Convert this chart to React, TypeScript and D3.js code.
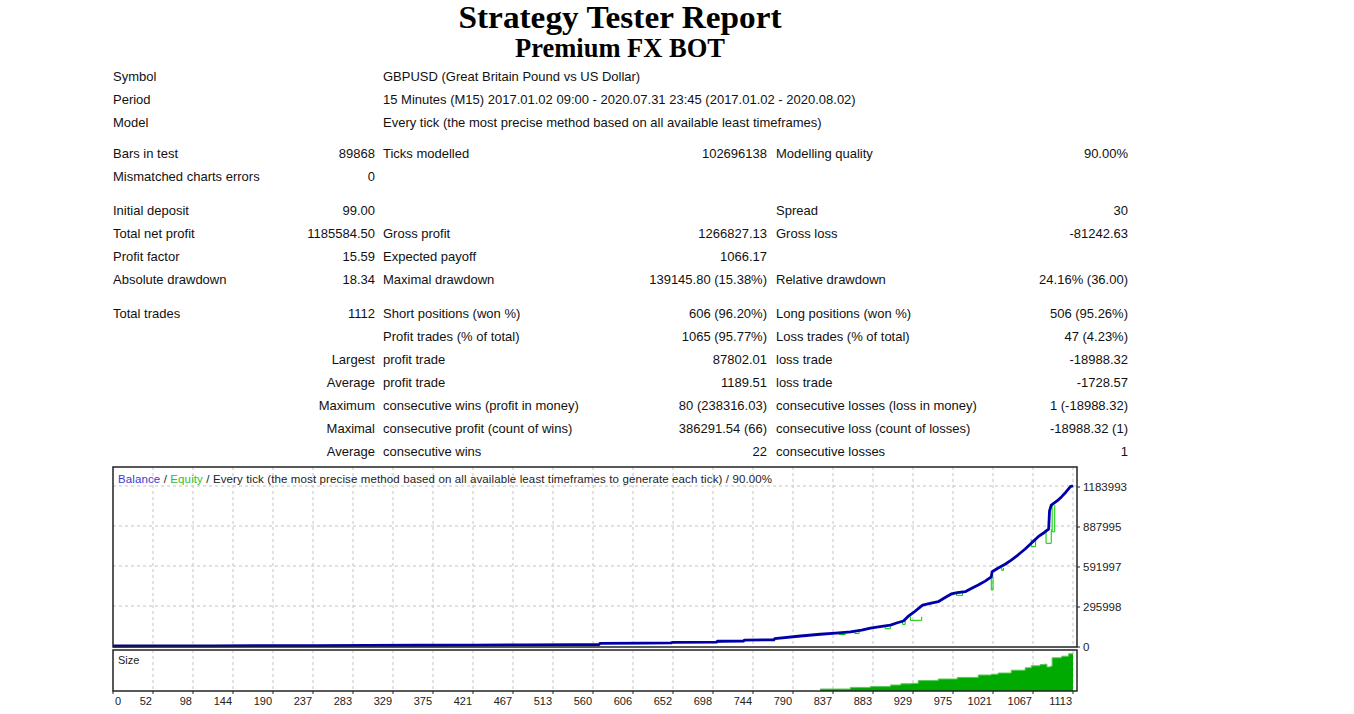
import React from "react";
import * as d3 from "d3";

// report header
const headerLabels = ["Symbol", "Period", "Model"];
const headerValues = [
  "GBPUSD (Great Britain Pound vs US Dollar)",
  "15 Minutes (M15) 2017.01.02 09:00 - 2020.07.31 23:45 (2017.01.02 - 2020.08.02)",
  "Every tick (the most precise method based on all available least timeframes)",
];

// stats table, one row = 6 cells
const statsGroups = [
  [
    ["Bars in test", "89868", "Ticks modelled", "102696138", "Modelling quality", "90.00%"],
    ["Mismatched charts errors", "0", "", "", "", ""],
  ],
  [
    ["Initial deposit", "99.00", "", "", "Spread", "30"],
    ["Total net profit", "1185584.50", "Gross profit", "1266827.13", "Gross loss", "-81242.63"],
    ["Profit factor", "15.59", "Expected payoff", "1066.17", "", ""],
    ["Absolute drawdown", "18.34", "Maximal drawdown", "139145.80 (15.38%)", "Relative drawdown", "24.16% (36.00)"],
  ],
  [
    ["Total trades", "1112", "Short positions (won %)", "606 (96.20%)", "Long positions (won %)", "506 (95.26%)"],
    ["", "", "Profit trades (% of total)", "1065 (95.77%)", "Loss trades (% of total)", "47 (4.23%)"],
    ["", "Largest", "profit trade", "87802.01", "loss trade", "-18988.32"],
    ["", "Average", "profit trade", "1189.51", "loss trade", "-1728.57"],
    ["", "Maximum", "consecutive wins (profit in money)", "80 (238316.03)", "consecutive losses (loss in money)", "1 (-18988.32)"],
    ["", "Maximal", "consecutive profit (count of wins)", "386291.54 (66)", "consecutive loss (count of losses)", "-18988.32 (1)"],
    ["", "Average", "consecutive wins", "22", "consecutive losses", "1"],
  ],
];

// chart axes
const xTickLabels = [0, 52, 98, 144, 190, 237, 283, 329, 375, 421, 467, 513, 560, 606, 652, 698, 744, 790, 837, 883, 929, 975, 1021, 1067, 1113];
const yTickValues = [0, 295998, 591997, 887995, 1183993];

// balance (trade number -> money)
const balanceTrades = [0, 60, 120, 180, 240, 300, 360, 420, 480, 540, 567, 568, 620, 650, 651, 702, 703, 733, 734, 768, 769, 799, 822, 840, 857, 870, 880, 893, 903, 911, 918, 923, 930, 940, 950, 958, 965, 973, 980, 989, 996, 1004, 1012, 1019, 1020, 1027, 1035, 1042, 1050, 1058, 1065, 1073, 1080, 1085, 1086, 1088, 1095, 1100, 1105, 1110, 1113];
const balanceValues = [99, 800, 1500, 2500, 3500, 4500, 5500, 7000, 8500, 10500, 11000, 20000, 22000, 22500, 27000, 28000, 35000, 36000, 44000, 46000, 54000, 74000, 87000, 95000, 104000, 118000, 133000, 145000, 155000, 172000, 185000, 217000, 250000, 303000, 318000, 328000, 355000, 385000, 395000, 402000, 425000, 451000, 480000, 511000, 550000, 577000, 605000, 636000, 675000, 718000, 760000, 809000, 840000, 864000, 1000000, 1043000, 1075000, 1105000, 1140000, 1179000, 1185683];

// equity drawdowns: start trade, end trade, low, level before
const dipStart = [703, 844, 862, 897, 917, 926, 979, 1019, 1031, 1065, 1082, 1089];
const dipEnd = [709, 851, 867, 903, 920, 939, 986, 1021, 1033, 1070, 1088, 1092];
const dipLow = [30000, 85000, 92000, 128000, 160000, 190000, 375000, 415000, 560000, 735000, 760000, 845000];
const dipBase = [35000, 95000, 104000, 145000, 185000, 217000, 395000, 511000, 577000, 790000, 864000, 1043000];

// lot size per trade
const sizeTrades = [822, 857, 880, 903, 915, 927, 935, 958, 980, 1004, 1019, 1027, 1042, 1058, 1065, 1075, 1080, 1083, 1087, 1089, 1100, 1108, 1113];
const sizeValues = [0.05, 0.09, 0.11, 0.15, 0.18, 0.19, 0.26, 0.3, 0.34, 0.4, 0.42, 0.45, 0.52, 0.58, 0.63, 0.66, 0.67, 0.6, 0.62, 0.83, 0.87, 0.93, 0.95];

const W = 1354;
const H = 714;
const tableFont = "'Liberation Sans', Arial, sans-serif";
const serif = "'Liberation Serif', 'Times New Roman', serif";

export default function App() {
  const left = 113;
  const right = 1077;
  const mainTop = 467;
  const mainBottom = 647;
  const sizeTop = 650;
  const sizeBottom = 691;

  const x = d3
    .scaleLinear()
    .domain(xTickLabels)
    .range(xTickLabels.map((_, i) => left + i * 40));
  const y = d3.scaleLinear().domain([0, 1183993]).range([646, 486]);
  const ySize = d3.scaleLinear().domain([0, 1]).range([sizeBottom, sizeTop + 1]);

  const balance = balanceTrades.map((t, i) => [t, balanceValues[i]] as [number, number]);
  const line = d3
    .line<[number, number]>()
    .x((d) => x(d[0]))
    .y((d) => y(d[1]));

  const size = sizeTrades.map((t, i) => [t, sizeValues[i]] as [number, number]);
  const area = d3
    .area<[number, number]>()
    .x((d) => x(d[0]))
    .y0(sizeBottom)
    .y1((d) => ySize(d[1]))
    .curve(d3.curveStepAfter);
  const sizeTopLine = d3
    .line<[number, number]>()
    .x((d) => x(d[0]))
    .y((d) => ySize(d[1]))
    .curve(d3.curveStepAfter);

  // table rows
  const groupStarts = [153, 210, 313];
  const col = { c1: 113, c2: 375, c3: 383, c4: 767, c5: 776, c6: 1128 };

  return (
    <svg width={W} height={H} style={{ position: "absolute", left: 0, top: 0 }}>
      <rect width={W} height={H} fill="#fff" />
      {/* Titles */}
      <text x={620} y={28} textAnchor="middle" fontFamily={serif} fontWeight="bold" fontSize={32} textLength={323} lengthAdjust="spacingAndGlyphs">
        Strategy Tester Report
      </text>
      <text x={620} y={57} textAnchor="middle" fontFamily={serif} fontWeight="bold" fontSize={27} textLength={210} lengthAdjust="spacingAndGlyphs">
        Premium FX BOT
      </text>

      {/* Header rows */}
      <g fontFamily={tableFont} fontSize={13} fill="#111">
        {headerLabels.map((l, i) => (
          <g key={l}>
            <text x={col.c1} y={81 + i * 23}>{l}</text>
            <text x={col.c3} y={81 + i * 23}>{headerValues[i]}</text>
          </g>
        ))}
        {statsGroups.map((rows, g) =>
          rows.map((r, i) => {
            const yy = groupStarts[g] + i * 23 + 5;
            return (
              <g key={g + "-" + i}>
                <text x={col.c1} y={yy}>{r[0]}</text>
                <text x={col.c2} y={yy} textAnchor="end">{r[1]}</text>
                <text x={col.c3} y={yy}>{r[2]}</text>
                <text x={col.c4} y={yy} textAnchor="end">{r[3]}</text>
                <text x={col.c5} y={yy}>{r[4]}</text>
                <text x={col.c6} y={yy} textAnchor="end">{r[5]}</text>
              </g>
            );
          })
        )}
      </g>

      {/* Chart grid */}
      <g stroke="#c4c4c4" strokeDasharray="3,3" strokeWidth={1}>
        {xTickLabels.slice(1).map((t) => (
          <g key={t}>
            <line x1={x(t)} x2={x(t)} y1={mainTop} y2={mainBottom} />
            <line x1={x(t)} x2={x(t)} y1={sizeTop} y2={sizeBottom} />
          </g>
        ))}
        {yTickValues.slice(1).map((v) => (
          <line key={v} x1={left} x2={right} y1={y(v)} y2={y(v)} />
        ))}
      </g>

      {/* Size */}
      <path d={area(size) || ""} fill="#00aa00" />
      <path d={sizeTopLine(size) || ""} fill="none" stroke="#5cc85c" strokeWidth={1} />

      {/* Equity */}
      <path d={line(balance) || ""} fill="none" stroke="#00c800" strokeWidth={1} />
      {dipStart.map((t, i) => (
        <path
          key={t}
          d={
            line([
              [t, dipBase[i]],
              [t, dipLow[i]],
              [dipEnd[i], dipLow[i]],
              [dipEnd[i], dipBase[i]],
            ]) || ""
          }
          fill="none"
          stroke="#00c800"
          strokeWidth={1}
        />
      ))}
      {/* Balance */}
      <path d={line(balance) || ""} fill="none" stroke="#0000aa" strokeWidth={2.8} strokeLinejoin="round" />

      {/* Frames */}
      <rect x={left} y={mainTop} width={right - left} height={mainBottom - mainTop} fill="none" stroke="#222" strokeWidth={1.5} />
      <rect x={left} y={sizeTop} width={right - left} height={sizeBottom - sizeTop} fill="none" stroke="#222" strokeWidth={1.5} />

      {/* Legend */}
      <text x={118} y={483} fontFamily={tableFont} fontSize={11.5} fill="#222" textLength={654} lengthAdjust="spacing">
        <tspan fill="#3a3ad0">Balance</tspan>
        <tspan> / </tspan>
        <tspan fill="#30c030">Equity</tspan>
        <tspan> / Every tick (the most precise method based on all available least timeframes to generate each tick) / 90.00%</tspan>
      </text>
      <text x={118} y={664} fontFamily={tableFont} fontSize={11} fill="#222">Size</text>

      {/* Y axis */}
      <g fontFamily={tableFont} fontSize={11.5} fill="#222">
        {yTickValues.map((v) => (
          <g key={v}>
            <line x1={right} x2={right + 3} y1={y(v) + 1} y2={y(v) + 1} stroke="#222" />
            <text x={right + 6} y={y(v) + 5}>{v}</text>
          </g>
        ))}
      </g>

      {/* X axis */}
      <g fontFamily={tableFont} fontSize={11} fill="#222">
        {xTickLabels.map((t, i) => (
          <g key={t}>
            <line x1={x(t)} x2={x(t)} y1={sizeBottom} y2={sizeBottom + 3} stroke="#222" />
            <text x={i === 0 ? x(t) + 2 : x(t) - 1} y={705} textAnchor={i === 0 ? "start" : "end"}>
              {t}
            </text>
          </g>
        ))}
      </g>
    </svg>
  );
}
